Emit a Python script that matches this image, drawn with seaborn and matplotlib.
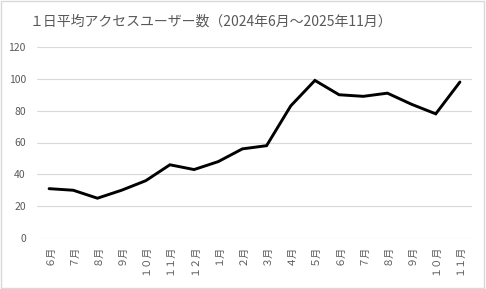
import matplotlib
matplotlib.use("Agg")
import matplotlib.pyplot as plt
import seaborn as sns
import pandas as pd
from matplotlib.patches import Rectangle

months = ["６月", "７月", "８月", "９月", "１０月", "１１月", "１２月", "１月", "２月",
          "３月", "４月", "５月", "６月", "７月", "８月", "９月", "１０月", "１１月"]
users = [31, 30, 25, 30, 36, 46, 43, 48, 56, 58, 83, 99, 90, 89, 91, 84, 78, 98]
yticks = [0, 20, 40, 60, 80, 100, 120]
title = "１日平均アクセスユーザー数（2024年6月～2025年11月）"

sns.set_theme(style="white")
plt.rcParams['font.family'] = ['Noto Sans CJK JP', 'DejaVu Sans']

df = pd.DataFrame({"idx": range(len(months)), "users": users})

fig = plt.figure(figsize=(4.86, 2.89), dpi=100)
ax = fig.add_axes([37/486, 1-238/289, (472-37)/486, (238-47)/289])

sns.lineplot(data=df, x="idx", y="users", ax=ax, color="black", linewidth=2.1,
             solid_joinstyle="miter", zorder=3)

ax.set_xlim(-0.5, len(months)-0.5)
ax.set_ylim(0, 120)
ax.set_yticks(yticks)
ax.set_yticklabels([str(v) for v in yticks], fontsize=7.5, color="#595959")
ax.set_xticks(range(len(months)))
ax.set_xticklabels(months, rotation=90, fontsize=7.3, color="#595959")
ax.tick_params(axis="both", length=0)
ax.tick_params(axis="x", pad=5)
ax.tick_params(axis="y", pad=8)
ax.grid(axis="y", color="#d9d9d9", linewidth=0.8)
ax.grid(axis="x", visible=False)
for s in ax.spines.values():
    s.set_visible(False)
ax.set_xlabel("")
ax.set_ylabel("")

fig.text(30/486, 1-22/289, title, fontsize=10, color="#595959", ha="left", va="center")

fig.patches.append(Rectangle((0.002, 0.003), 0.994, 0.992, transform=fig.transFigure,
                             fill=False, edgecolor="#d9d9d9", linewidth=1.0))

fig.savefig("out.png", dpi=100)
